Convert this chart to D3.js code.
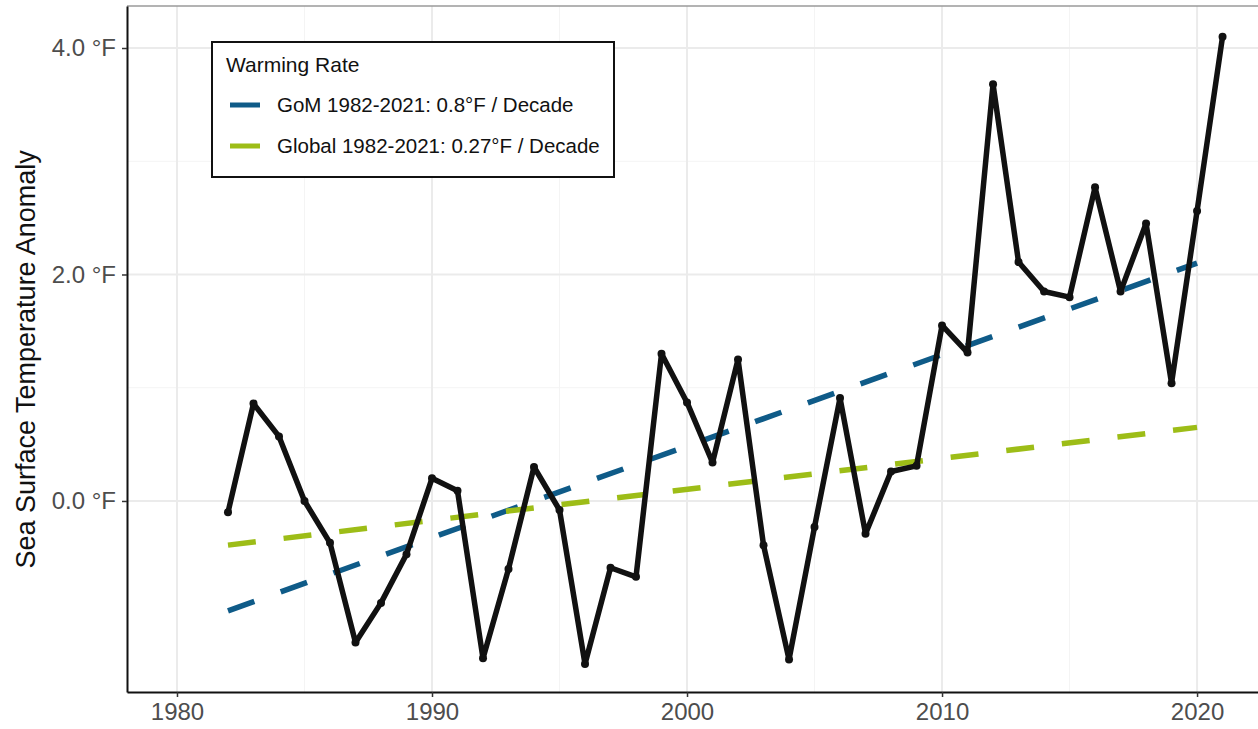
<!DOCTYPE html>
<html>
<head>
<meta charset="utf-8">
<script src="https://cdn.jsdelivr.net/npm/d3@7"></script>
<style>
  body { margin: 0; background: #fff; }
  svg { font-family: "Liberation Sans", Arial, Helvetica, sans-serif; }
</style>
</head>
<body>
<svg width="1258" height="729"></svg>
<script>
// yearly GoM SST anomaly
var years = d3.range(1982, 2022);
var anomaly = [-0.1, 0.86, 0.57, 0.0, -0.37, -1.25, -0.9, -0.47, 0.2, 0.09,
               -1.39, -0.6, 0.3, -0.08, -1.44, -0.59, -0.67, 1.3, 0.87, 0.34,
               1.25, -0.39, -1.4, -0.23, 0.91, -0.29, 0.26, 0.31, 1.55, 1.31,
               3.68, 2.11, 1.85, 1.8, 2.77, 1.85, 2.45, 1.04, 2.56, 4.1];

// trend line end points
var trendYears = [1982, 2020];
var gomTrend = [-0.97, 2.1];
var globalTrend = [-0.39, 0.65];

var xTicks = [1980, 1990, 2000, 2010, 2020];
var xMinor = [1985, 1995, 2005, 2015];
var yTicks = [0, 2, 4];
var yMinor = [1, 3];
var legendLabels = ["GoM 1982-2021: 0.8\u00b0F / Decade", "Global 1982-2021: 0.27\u00b0F / Decade"];

function createVisualization() {
    var svg = d3.select("svg"),
    margin = {top: 6, right: 0, bottom: 37, left: 127},
    width = +svg.attr("width") - margin.left - margin.right,
    height = +svg.attr("height") - margin.top - margin.bottom,
    g = svg.append("g").attr("transform", "translate(" + margin.left + "," + margin.top + ")");

    var x = d3.scaleLinear()
        .domain([1978.04, 2022.39])
        .range([0, width]);

    var y = d3.scaleLinear()
        .domain([-1.687, 4.371])
        .range([height, 0]);

    var colors = ["#0f5b88", "#9dbd17"];

    // grid
    g.append("g").selectAll("line")
        .data(yMinor).enter().append("line")
        .attr("x1", 0).attr("x2", width)
        .attr("y1", function(d) { return y(d); })
        .attr("y2", function(d) { return y(d); })
        .attr("stroke", "#f4f4f4").attr("stroke-width", 1);
    g.append("g").selectAll("line")
        .data(xMinor).enter().append("line")
        .attr("y1", 0).attr("y2", height)
        .attr("x1", function(d) { return x(d); })
        .attr("x2", function(d) { return x(d); })
        .attr("stroke", "#f4f4f4").attr("stroke-width", 1);
    g.append("g").selectAll("line")
        .data(yTicks).enter().append("line")
        .attr("x1", 0).attr("x2", width)
        .attr("y1", function(d) { return y(d); })
        .attr("y2", function(d) { return y(d); })
        .attr("stroke", "#ebebeb").attr("stroke-width", 2);
    g.append("g").selectAll("line")
        .data(xTicks).enter().append("line")
        .attr("y1", 0).attr("y2", height)
        .attr("x1", function(d) { return x(d); })
        .attr("x2", function(d) { return x(d); })
        .attr("stroke", "#ebebeb").attr("stroke-width", 2);

    // top border (faint)
    g.append("line")
        .attr("x1", 0).attr("x2", width).attr("y1", 0).attr("y2", 0)
        .attr("stroke", "#9a9a9a").attr("stroke-width", 1.5);

    // trend lines
    var trendLine = d3.line()
        .x(function(d) { return x(d.year); })
        .y(function(d) { return y(d.value); });

    [gomTrend, globalTrend].forEach(function(t, i) {
        var pts = trendYears.map(function(yr, j) { return {year: yr, value: t[j]}; });
        g.append("path")
            .datum(pts)
            .attr("d", trendLine)
            .attr("fill", "none")
            .attr("stroke", colors[i])
            .attr("stroke-width", 5.5)
            .attr("stroke-dasharray", "28,28");
    });

    // anomaly series
    var series = years.map(function(yr, i) { return {year: yr, value: anomaly[i]}; });
    var line = d3.line()
        .x(function(d) { return x(d.year); })
        .y(function(d) { return y(d.value); });

    g.append("path")
        .datum(series)
        .attr("d", line)
        .attr("fill", "none")
        .attr("stroke", "#111")
        .attr("stroke-width", 5.5)
        .attr("stroke-linejoin", "round");

    g.append("g").selectAll("circle")
        .data(series).enter().append("circle")
        .attr("cx", function(d) { return x(d.year); })
        .attr("cy", function(d) { return y(d.value); })
        .attr("r", 4)
        .attr("fill", "#111");

    // axes
    var xAxis = g.append("g")
        .attr("class", "x-axis")
        .attr("transform", "translate(0," + height + ")")
        .call(d3.axisBottom(x).tickValues(xTicks).tickFormat(d3.format("d")).tickSize(5).tickSizeOuter(0).tickPadding(6));

    var yAxis = g.append("g")
        .attr("class", "y-axis")
        .call(d3.axisLeft(y).tickValues(yTicks).tickFormat(function(d) { return d3.format(".1f")(d) + " \u00b0F"; }).tickSize(5).tickSizeOuter(0).tickPadding(6));

    [xAxis, yAxis].forEach(function(a) {
        a.select(".domain").attr("stroke", "#111").attr("stroke-width", 2);
        a.selectAll(".tick line").attr("stroke", "#333").attr("stroke-width", 1.5);
        a.selectAll(".tick text").attr("fill", "#4d4d4d").style("font-size", "24px").style("font-family", "inherit");
    });
    xAxis.selectAll(".tick text").attr("dy", "0.72em");

    // y-axis label
    svg.append("text")
        .attr("transform", "translate(35," + (margin.top + y(1.25)) + ") rotate(-90)")
        .attr("text-anchor", "middle")
        .style("font-size", "27px")
        .attr("fill", "#111")
        .text("Sea Surface Temperature Anomaly");

    // legend
    var legend = svg.append("g").attr("transform", "translate(212,42)");
    legend.append("rect")
        .attr("width", 402).attr("height", 135)
        .attr("fill", "#fff")
        .attr("stroke", "#111").attr("stroke-width", 2);
    legend.append("text")
        .attr("x", 14).attr("y", 30)
        .style("font-size", "21px")
        .attr("fill", "#111")
        .text("Warming Rate");

    var items = legend.selectAll(".item")
        .data(legendLabels).enter().append("g")
        .attr("transform", function(d, i) { return "translate(0," + (63 + i * 41) + ")"; });
    items.append("line")
        .attr("x1", 18).attr("x2", 48)
        .attr("stroke", function(d, i) { return colors[i]; })
        .attr("stroke-width", 5);
    items.append("text")
        .attr("x", 65).attr("y", 0)
        .attr("dy", "0.35em")
        .style("font-size", "20.5px")
        .attr("fill", "#111")
        .text(function(d) { return d; });
}

createVisualization();
</script>
</body>
</html>
